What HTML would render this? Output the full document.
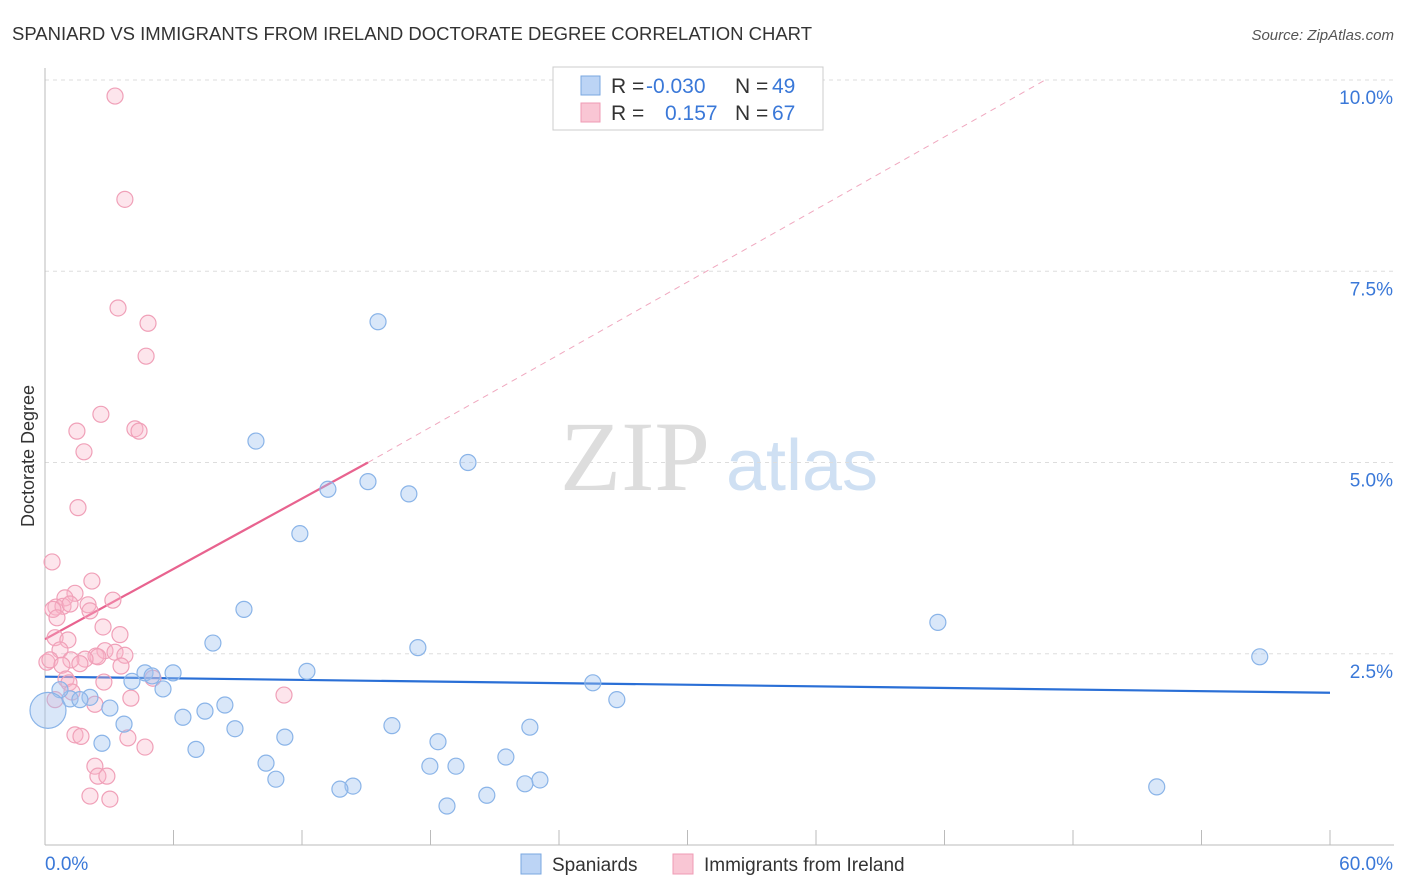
<!DOCTYPE html>
<html><head><meta charset="utf-8">
<style>
body{margin:0;background:#fff;font-family:"Liberation Sans",sans-serif;}
#wrap{position:relative;width:1406px;height:892px;overflow:hidden;}
</style></head>
<body>
<div id="wrap">
<svg id="svg" width="1406" height="892" xmlns="http://www.w3.org/2000/svg">
<text x="12" y="40" font-size="18" fill="#333" textLength="800" lengthAdjust="spacingAndGlyphs">SPANIARD VS IMMIGRANTS FROM IRELAND DOCTORATE DEGREE CORRELATION CHART</text>
<text x="1394" y="40" font-size="15" fill="#555" font-style="italic" text-anchor="end">Source: ZipAtlas.com</text>
<text x="34" y="456" font-size="18" fill="#333" text-anchor="middle" transform="rotate(-90 34 456)">Doctorate Degree</text>
<g>
<text x="635" y="490" font-size="100" fill="#ddd" font-family="Liberation Serif,serif" text-anchor="middle">ZIP</text>
<text x="802" y="490" font-size="72" fill="#cfe0f3" text-anchor="middle">atlas</text>
</g>
<g id="grid"></g>
<g id="axes"></g>
<g id="trends"></g>
<g id="points"></g>
<g>
<rect x="553" y="67" width="270" height="63" fill="#fff" stroke="#ccc"/>
<rect x="581" y="76" width="19" height="19" fill="#bcd4f5" stroke="#7aa7e0"/>
<rect x="581" y="103" width="19" height="19" fill="#f9c6d4" stroke="#ef9bb4"/>
<text x="611" y="93" font-size="21" fill="#333">R = </text><text x="646" y="93" font-size="21" fill="#3a78d8">-0.030</text>
<text x="735" y="93" font-size="21" fill="#333">N = </text><text x="772" y="93" font-size="21" fill="#3a78d8">49</text>
<text x="611" y="120" font-size="21" fill="#333">R = </text><text x="665" y="120" font-size="21" fill="#3a78d8">0.157</text>
<text x="735" y="120" font-size="21" fill="#333">N = </text><text x="772" y="120" font-size="21" fill="#3a78d8">67</text>
</g>
<g>
<rect x="521" y="854" width="20" height="20" fill="#bcd4f5" stroke="#7aa7e0"/>
<text x="552" y="871" font-size="19" fill="#333">Spaniards</text>
<rect x="673" y="854" width="20" height="20" fill="#f9c6d4" stroke="#ef9bb4"/>
<text x="704" y="871" font-size="19" fill="#333">Immigrants from Ireland</text>
</g>
</svg>
</div>
<script>
const blueX=[15.55,9.85,19.75,15.08,13.21,16.99,11.90,9.29,41.69,7.84,17.41,56.72,12.23,4.67,5.00,5.98,25.58,4.06,5.51,2.10,1.17,1.63,26.70,8.40,3.03,7.47,6.44,8.87,16.20,22.64,3.69,11.20,2.66,18.35,7.05,21.52,10.32,17.97,19.19,10.78,23.11,22.41,14.38,13.77,51.91,20.63,18.77,0.70,0.14];
const blueY=[6.84,5.28,5.00,4.75,4.65,4.59,4.07,3.08,2.91,2.64,2.58,2.46,2.27,2.25,2.21,2.25,2.12,2.14,2.04,1.93,1.91,1.90,1.90,1.83,1.79,1.75,1.67,1.52,1.56,1.54,1.58,1.41,1.33,1.35,1.25,1.15,1.07,1.03,1.03,0.86,0.85,0.80,0.77,0.73,0.76,0.65,0.51,2.03,1.76];
const pinkX=[3.27,3.73,3.41,4.81,4.72,2.61,1.49,4.20,4.39,1.82,1.54,0.33,2.19,1.40,0.93,0.51,0.84,1.17,0.37,2.01,2.10,3.17,0.56,2.71,0.47,1.07,3.50,0.70,2.80,3.27,3.73,2.38,2.47,0.09,0.23,1.87,1.21,1.63,0.79,3.55,0.98,1.12,2.75,5.04,4.01,2.33,1.26,11.16,0.47,1.40,1.68,3.87,4.67,2.33,2.47,2.89,2.10,3.03];
const pinkY=[9.79,8.44,7.02,6.82,6.39,5.63,5.41,5.44,5.41,5.14,4.41,3.70,3.45,3.29,3.23,3.11,3.12,3.15,3.08,3.14,3.06,3.20,2.97,2.85,2.71,2.68,2.75,2.55,2.54,2.52,2.48,2.47,2.46,2.39,2.42,2.43,2.42,2.37,2.35,2.34,2.17,2.12,2.13,2.18,1.92,1.84,2.00,1.96,1.90,1.44,1.42,1.40,1.28,1.03,0.90,0.90,0.64,0.60];
const yTicks=[2.5,5.0,7.5,10.0];
const yTickLabels=["2.5%","5.0%","7.5%","10.0%"];
const blueTrend=[[0,2.20],[60,1.99]];
const pinkTrendSolid=[[0,2.69],[15.08,5.00]];
const pinkTrendDash=[[15.08,5.00],[46.7,10.0]];
const NS="http://www.w3.org/2000/svg";
const sx=v=>45+v*(1285/60);
const sy=v=>845-v*76.5;
function mk(tag,attrs,parent){const e=document.createElementNS(NS,tag);for(const k in attrs)e.setAttribute(k,attrs[k]);parent.appendChild(e);return e;}
const grid=document.getElementById('grid'),axes=document.getElementById('axes'),trends=document.getElementById('trends'),pts=document.getElementById('points');
yTicks.forEach((t,i)=>{
  const l=mk('line',{x1:45,x2:1394,y1:sy(t),y2:sy(t),stroke:'#ddd','stroke-dasharray':'4,4'},grid);
  
  
  const tx=mk('text',{x:1393,y:sy(t)+24,'font-size':19,fill:'#3a78d8','text-anchor':'end'},grid);
  tx.textContent=yTickLabels[i];
  
  
});
let a=mk('line',{x1:45,x2:45,y1:68,y2:845,stroke:'#bbb'},axes);


a=mk('line',{x1:45,x2:1394,y1:845,y2:845,stroke:'#bbb'},axes);


for(let i=0;i<=10;i++){
  const t=mk('line',{x1:sx(i*6),x2:sx(i*6),y1:830,y2:845,stroke:'#bbb'},axes);
  
  
}
let xl=mk('text',{x:45,y:870,'font-size':19,fill:'#3a78d8'},axes);xl.textContent='0.0%';


xl=mk('text',{x:1393,y:870,'font-size':19,fill:'#3a78d8','text-anchor':'end'},axes);xl.textContent='60.0%';


function drawPts(X,Y,fill,stroke,name){
  X.forEach((x,i)=>{
    const big=(name==='spaniard-point'&&i===X.length-1);
    const c=mk('circle',{cx:sx(x),cy:sy(Y[i]),r:big?18:8,fill:fill,stroke:stroke,'stroke-width':1.2},pts);
    
    
  });
}
drawPts(pinkX,pinkY,'rgba(248,180,200,0.35)','#f0a0b8','ireland-point');
drawPts(blueX,blueY,'rgba(160,196,240,0.4)','#8ab4e8','spaniard-point');
let tl=mk('line',{x1:sx(blueTrend[0][0]),y1:sy(blueTrend[0][1]),x2:sx(blueTrend[1][0]),y2:sy(blueTrend[1][1]),stroke:'#2a6fd6','stroke-width':2.2},trends);


tl=mk('line',{x1:sx(pinkTrendSolid[0][0]),y1:sy(pinkTrendSolid[0][1]),x2:sx(pinkTrendSolid[1][0]),y2:sy(pinkTrendSolid[1][1]),stroke:'#e8638f','stroke-width':2.2},trends);


tl=mk('line',{x1:sx(pinkTrendDash[0][0]),y1:sy(pinkTrendDash[0][1]),x2:sx(pinkTrendDash[1][0]),y2:sy(pinkTrendDash[1][1]),stroke:'#f0a8bf','stroke-width':1,'stroke-dasharray':'6,5'},trends);


</script>
</body></html>
